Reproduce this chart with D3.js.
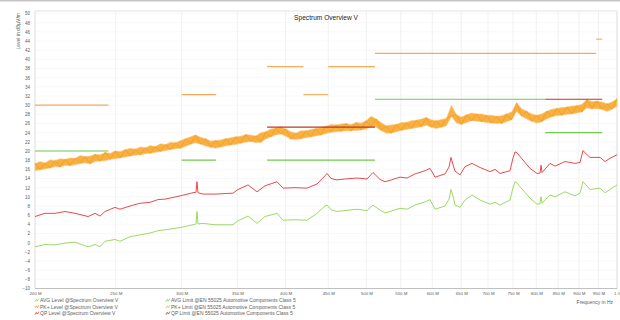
<!DOCTYPE html>
<html>
<head>
<meta charset="utf-8">
<script src="https://cdn.jsdelivr.net/npm/d3@7"></script>
<style>
  body { margin: 0; background: #fff; }
  svg { display: block; font-family: "Liberation Sans", Arial, sans-serif; }
</style>
</head>
<body>
<svg id="chart" width="620" height="320"></svg>
<script>
// Frequency axis (MHz) and level axis (dBµV/m)
const freqTicks = [200, 250, 300, 350, 400, 450, 500, 550, 600, 650, 700, 750, 800, 850, 900, 950, 1000];
const freqTickLabels = ["200 M", "250 M", "300 M", "350 M", "400 M", "450 M", "500 M", "550 M", "600 M",
  "650 M", "700 M", "750 M", "800 M", "850 M", "900 M", "950 M", "1 G"];
const levelTicks = [-10, -8, -6, -4, -2, 0, 2, 4, 6, 8, 10, 12, 14, 16, 18, 20, 22, 24, 26, 28, 30,
  32, 34, 36, 38, 40, 42, 44, 46, 48, 50];

// QP and AVG level traces, sampled at these frequencies (MHz)
const levelFreqs = [200, 205.6, 211.4, 217.3, 223.4, 231.6, 236.1, 239.4, 242.7, 249.5, 253.0, 260.1, 267.4,
  274.9, 281.0, 286.5, 298.7, 309.6, 312.2, 313.0, 313.9, 318.3, 329.0, 345.8, 350.6, 360.5, 369.5, 377.8,
  390.6, 397.1, 410.5, 424.3, 436.2, 446.0, 448.5, 453.5, 461.0, 471.4, 487.3, 500.9, 509.3, 519.3, 526.5,
  533.8, 548.8, 559.5, 572.0, 588.1, 596.3, 604.6, 621.5, 628.4, 631.9, 635.4, 639.0, 647.9, 656.9, 669.7,
  684.7, 703.9, 713.7, 723.6, 743.9, 750.1, 754.3, 758.5, 764.8, 786.2, 801.6, 808.3, 810.5, 812.8, 830.9,
  842.5, 866.1, 890.4, 902.8, 910.3, 915.4, 928.1, 954.2, 967.5, 980.9, 1000];
const qpLevel = [5.7, 6.4, 6.4, 6.8, 6.4, 5.7, 6.4, 5.8, 6.8, 7.7, 7.3, 8.0, 8.6, 8.8, 9.4, 9.5, 10.2, 10.9,
  11.0, 13.3, 10.9, 10.6, 10.6, 10.8, 11.6, 12.6, 11.1, 12.4, 13.3, 11.9, 12.0, 11.9, 12.8, 14.6, 15.1, 14.0,
  13.7, 13.9, 14.1, 13.9, 15.3, 13.8, 13.3, 13.6, 14.3, 14.1, 15.0, 15.7, 16.2, 14.3, 15.0, 16.5, 18.6, 17.0,
  15.6, 14.8, 16.6, 17.3, 16.4, 15.5, 16.0, 15.1, 15.7, 18.5, 19.8, 19.6, 18.8, 16.2, 15.1, 15.2, 16.9, 15.3,
  17.3, 16.7, 17.7, 17.3, 17.5, 20.1, 19.6, 18.6, 18.6, 17.7, 18.4, 19.2];
const avgLevel = [-0.9, -0.4, -0.5, -0.1, 0.1, -0.9, -0.4, -0.9, 0.3, 0.7, 0.3, 1.3, 1.7, 2.1, 2.6, 2.8, 3.3,
  3.9, 4.1, 6.8, 4.1, 4.2, 3.9, 3.9, 4.8, 5.8, 4.2, 5.7, 6.4, 4.9, 5.0, 4.9, 6.4, 8.0, 8.2, 7.2, 6.8, 7.0, 7.3,
  7.0, 8.2, 7.1, 6.5, 6.8, 7.5, 7.3, 8.2, 8.9, 9.4, 7.3, 8.0, 9.5, 11.6, 10.2, 8.2, 7.7, 9.3, 10.4, 9.3, 8.4,
  8.8, 8.2, 9.3, 12.0, 13.3, 13.0, 12.2, 9.7, 8.4, 8.5, 10.0, 8.6, 10.4, 10.0, 11.1, 10.2, 10.8, 13.3, 12.8,
  11.6, 11.9, 10.9, 11.6, 12.6];

// PK+ trace: logarithmic sweep 200 MHz .. 1 GHz, min/max of the noise band per sweep point
const pkSweep = { start: 200, stop: 1000, points: 117 };
const pkLow = [15.7, 15.9, 16.1, 16.3, 16.6, 16.5, 16.9, 16.8, 17.0, 17.3,
  17.4, 17.2, 17.7, 17.8, 17.9, 18.2, 18.3, 18.5, 18.7, 18.9,
  19.1, 19.2, 19.4, 19.5, 19.7, 19.9, 20.1, 20.3, 20.5, 20.6,
  21.0, 21.5, 21.8, 21.5, 21.1, 20.8, 20.6, 20.9, 21.1, 21.3,
  21.4, 21.7, 21.9, 22.1, 21.8, 21.9, 22.6, 23.1, 23.5, 23.7,
  23.2, 22.6, 22.5, 22.7, 22.9, 23.1, 23.3, 23.5, 23.8, 24.1,
  24.2, 24.3, 24.4, 24.4, 24.5, 24.6, 24.8, 25.3, 25.2, 24.5,
  23.9, 23.9, 24.2, 24.5, 24.7, 24.9, 25.1, 25.3, 25.6, 25.2,
  24.9, 25.2, 25.5, 27.6, 26.1, 25.8, 26.2, 26.6, 26.5, 26.4,
  26.2, 26.1, 26.0, 26.0, 26.4, 26.8, 28.6, 27.6, 27.0, 26.5,
  26.1, 26.4, 27.0, 27.5, 27.7, 27.8, 28.0, 28.1, 28.3, 28.5,
  29.4, 29.2, 29.2, 29.1, 28.6, 29.1, 29.8];
const pkHigh = [17.3, 17.7, 17.4, 18.1, 17.9, 18.3, 18.2, 18.5, 18.4, 19.0,
  18.8, 18.9, 19.3, 19.2, 19.7, 19.5, 20.0, 19.9, 20.3, 20.6,
  20.4, 20.9, 20.7, 21.2, 21.0, 21.6, 21.4, 21.9, 21.8, 22.3,
  22.7, 23.1, 23.5, 23.0, 22.7, 22.2, 22.3, 22.4, 22.7, 22.9,
  23.1, 23.2, 23.6, 23.5, 23.3, 24.0, 24.2, 24.8, 25.0, 25.3,
  24.8, 24.2, 23.9, 24.4, 24.4, 24.7, 24.9, 25.2, 25.4, 25.8,
  25.7, 25.9, 26.0, 25.8, 26.2, 26.1, 26.6, 27.6, 27.0, 26.2,
  25.5, 25.7, 25.8, 26.2, 26.2, 26.6, 26.7, 27.0, 27.3, 26.8,
  26.6, 26.9, 27.1, 30.0, 27.9, 27.4, 27.9, 28.3, 28.1, 28.1,
  27.8, 27.8, 27.6, 27.7, 28.1, 28.5, 30.5, 29.2, 28.7, 28.1,
  27.8, 28.1, 28.7, 29.1, 29.3, 29.5, 29.6, 29.8, 29.9, 30.2,
  31.2, 30.8, 30.9, 30.7, 30.3, 30.7, 31.4];

// EN 55025 Class 5 limit segments: [from MHz, to MHz, dBµV/m]
const avgLimit = [[200, 245, 20], [300, 330, 18], [380, 512, 18], [512, 820, 31.3], [820, 960, 24]];
const pkLimit = [[200, 245, 30], [300, 330, 32.3], [380, 420, 38.4], [420, 450, 32.3], [450, 512, 38.4],
  [512, 944, 41.3], [944, 960, 44.4]];
const qpLimit = [[380, 512, 25.2], [820, 960, 31.3]];

const legendItems = [
  ["AVG Level @Spectrum Overview V", "AVG Limit @EN 55025 Automotive Components Class 5"],
  ["PK+ Level @Spectrum Overview V", "PK+ Limit @EN 55025 Automotive Components Class 5"],
  ["QP Level @Spectrum Overview V", "QP Limit @EN 55025 Automotive Components Class 5"]
];

const C = {
  avg: "#93d452", qp: "#e8353a", pk: "#f49d16",
  avgLim: "#6fcd4c", pkLim: "#f3ac5c", qpLim: "#b8382e",
  grid: "#ededed", text: "#606060"
};

const svg = d3.select("#chart");
const W = 620, H = 320;
const L = 35, R = 617, T = 11, B = 288.5;

const x = d3.scaleLog().domain([200, 1000]).range([L, R]);
const y = d3.scaleLinear().domain([-10, 50]).range([B, 13.5]);

// outer border line
svg.append("line").attr("x1", 0).attr("x2", W).attr("y1", 0.8).attr("y2", 0.8)
  .attr("stroke", "#c4c4c4").attr("stroke-width", 1.6);

// grid
const grid = svg.append("g");
grid.selectAll("line.h").data(levelTicks).join("line")
  .attr("x1", L).attr("x2", R).attr("y1", d => y(d)).attr("y2", d => y(d))
  .attr("stroke", "#f6f6f6").attr("stroke-width", 0.8);
grid.selectAll("line.v").data(freqTicks).join("line")
  .attr("x1", d => x(d)).attr("x2", d => x(d)).attr("y1", T).attr("y2", B)
  .attr("stroke", C.grid).attr("stroke-width", 0.8);

// plot frame
svg.append("rect").attr("x", L).attr("y", T).attr("width", R - L).attr("height", B - T)
  .attr("fill", "none").attr("stroke", "#dcdcdc").attr("stroke-width", 0.8);
svg.append("line").attr("x1", L).attr("x2", R).attr("y1", B).attr("y2", B)
  .attr("stroke", "#b8b8b8").attr("stroke-width", 0.8);

// axes
const yAxis = d3.axisLeft(y).tickValues(levelTicks).tickSize(0).tickPadding(5).tickFormat(d3.format("d"));
const gy = svg.append("g").attr("transform", `translate(${L},0)`).call(yAxis);
gy.select(".domain").remove();
gy.selectAll("text").attr("font-size", 4.6).attr("fill", C.text).attr("font-family", "Liberation Sans, Arial, sans-serif");

const xAxis = d3.axisBottom(x).tickValues(freqTicks).tickSize(0).tickPadding(3.8)
  .tickFormat((d, i) => freqTickLabels[i]);
const gx = svg.append("g").attr("transform", `translate(0,${B})`).call(xAxis);
gx.select(".domain").remove();
gx.selectAll("text").attr("font-size", 4.4).attr("fill", C.text).attr("font-family", "Liberation Sans, Arial, sans-serif");

// titles
svg.append("text").attr("x", 326).attr("y", 19.5).attr("text-anchor", "middle")
  .attr("font-size", 6.6).attr("fill", "#222").text("Spectrum Overview V");
svg.append("text").attr("transform", "translate(19.5,13) rotate(-90)").attr("text-anchor", "end")
  .attr("font-size", 5).attr("fill", C.text).text("Level in dBµV/m");
svg.append("text").attr("x", 613).attr("y", 303.5).attr("text-anchor", "end")
  .attr("font-size", 5).attr("fill", C.text).text("Frequency in Hz");

// traces
const plot = svg.append("g");
const pkData = pkLow.map((lo, i) => ({
  f: pkSweep.start * Math.pow(pkSweep.stop / pkSweep.start, i / (pkSweep.points - 1)),
  lo, hi: pkHigh[i]
}));
// noise band envelope
plot.append("path").datum(pkData)
  .attr("d", d3.area().x(d => x(d.f)).y0(d => y(d.lo)).y1(d => y(d.hi)))
  .attr("fill", "#f8b043").attr("stroke", "#fbc987").attr("stroke-width", 0.6);
// peak-to-trough sweep trace within the band
plot.append("path").datum(pkData)
  .attr("d", d3.line().x(d => x(d.f)).y((d, i) => y(i % 2 ? d.lo : d.hi)))
  .attr("fill", "none").attr("stroke", C.pk).attr("stroke-width", 0.8);

const levelLine = vals => d3.line().x((d, i) => x(levelFreqs[i])).y(d => y(d))(vals);
plot.append("path").attr("d", levelLine(qpLevel)).attr("fill", "none")
  .attr("stroke", C.qp).attr("stroke-width", 0.9).attr("stroke-linejoin", "round");
plot.append("path").attr("d", levelLine(avgLevel)).attr("fill", "none")
  .attr("stroke", C.avg).attr("stroke-width", 0.9).attr("stroke-linejoin", "round");

// limit lines
function drawLimit(segs, color) {
  plot.append("g").selectAll("line").data(segs).join("line")
    .attr("x1", d => x(d[0])).attr("x2", d => x(d[1]))
    .attr("y1", d => y(d[2])).attr("y2", d => y(d[2]))
    .attr("stroke", color).attr("stroke-width", 1.1);
}
drawLimit(avgLimit, C.avgLim);
drawLimit(pkLimit, C.pkLim);
drawLimit(qpLimit, C.qpLim);

// legend
const legendColors = [[C.avg, C.avgLim], [C.pk, C.pkLim], [C.qp, C.qpLim]];
const colX = [35, 166];
const rowY = [302, 308.5, 315];
legendItems.forEach((row, r) => {
  row.forEach((label, c) => {
    const g = svg.append("g").attr("transform", `translate(${colX[c]},${rowY[r]})`);
    g.append("path").attr("d", "M0,-0.3 L1.3,-2.6 L2.4,-0.9 L3.8,-3.4")
      .attr("fill", "none").attr("stroke", legendColors[r][c]).attr("stroke-width", 0.8);
    g.append("text").attr("x", 5).attr("y", 0).attr("font-size", 5).attr("fill", C.text).text(label);
  });
});
</script>
</body>
</html>
